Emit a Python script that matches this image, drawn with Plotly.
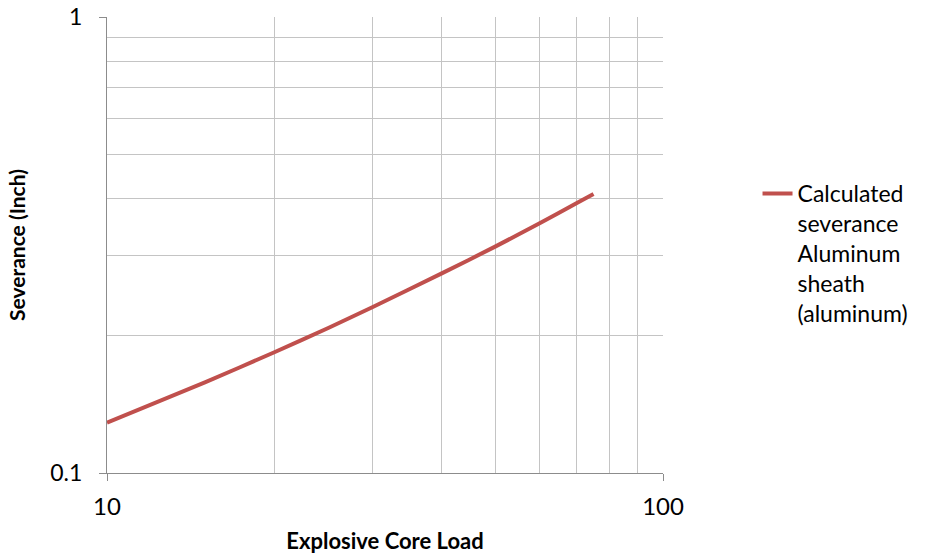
import plotly.graph_objects as go

# explosive core load vs calculated severance
core_load = [10, 15, 20, 25, 30, 40, 50, 60, 70, 75]
severance = [0.129, 0.158, 0.184, 0.208, 0.231, 0.274, 0.314, 0.353, 0.391, 0.409]

x_ticks = [10, 100]
x_minor = [20, 30, 40, 50, 60, 70, 80, 90]
y_ticks = [0.1, 1]
y_minor = [0.2, 0.3, 0.4, 0.5, 0.6, 0.7, 0.8, 0.9]

series_name = "Calculated<br>severance<br>Aluminum<br>sheath<br>(aluminum)"

fig = go.Figure()
fig.add_trace(go.Scatter(
    x=core_load, y=severance, mode="lines", name=series_name,
    line=dict(color="#C0504D", width=4, shape="spline", smoothing=0.6),
))

grid = "#c4c4c4"
axis_line = "#8c8c8c"

fig.update_xaxes(
    type="log", range=[1, 2], automargin=False,
    tickvals=x_ticks, ticktext=["10", "100"],
    showgrid=True, gridcolor=grid, gridwidth=1,
    minor=dict(tickvals=x_minor, showgrid=True, gridcolor=grid, gridwidth=1, ticks=""),
    showline=True, linecolor=axis_line, linewidth=1,
    ticks="outside", ticklen=7, tickcolor=axis_line,
    ticklabelstandoff=5, ticklabeloverflow="allow",
    tickfont=dict(size=24, color="#000"),
    zeroline=False,
    title=dict(text="<b>Explosive Core Load</b>", font=dict(size=22, color="#000"), standoff=14),
)
fig.update_yaxes(
    type="log", range=[-1, 0], automargin=False,
    tickvals=y_ticks, ticktext=["0.1", "1"],
    showgrid=True, gridcolor=grid, gridwidth=1,
    minor=dict(tickvals=y_minor, showgrid=True, gridcolor=grid, gridwidth=1, ticks=""),
    showline=True, linecolor=axis_line, linewidth=1,
    ticks="outside", ticklen=7, tickcolor=axis_line,
    ticklabelstandoff=12, ticklabeloverflow="allow",
    tickfont=dict(size=23, color="#000"),
    zeroline=False,
    title=dict(text="<b>Severance (Inch)</b>", font=dict(size=21, color="#000"), standoff=18),
)

fig.update_layout(
    width=925, height=557,
    margin=dict(l=107, r=248, t=17, b=84),
    paper_bgcolor="white", plot_bgcolor="white",
    font=dict(family="Lato, 'Open Sans', sans-serif", color="#000"),
    showlegend=True,
    legend=dict(
        x=1.17, y=0.66, xanchor="left", yanchor="top",
        valign="top", font=dict(size=23, color="#000"),
        bgcolor="rgba(0,0,0,0)",
    ),
)

# drop the page's default body margin and scrollbars so the figure sits at the window corner
fig.write_html(
    "out.html",
    config={"displayModeBar": False},
    post_script="document.body.style.margin='0';document.body.style.overflow='hidden';",
)
